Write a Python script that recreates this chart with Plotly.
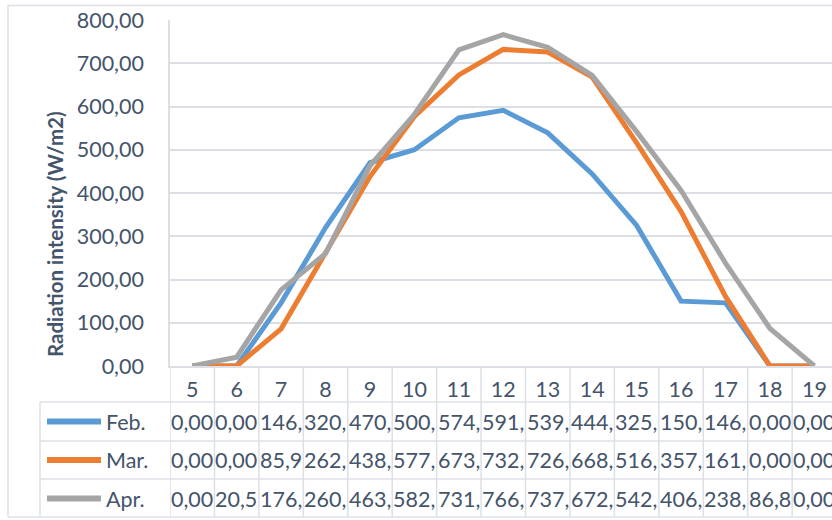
import plotly.graph_objects as go

# Hourly radiation intensity (W/m2), by month
hours = [5, 6, 7, 8, 9, 10, 11, 12, 13, 14, 15, 16, 17, 18, 19]
feb = [0.00, 0.00, 146, 320, 470, 500, 574, 591, 539, 444, 325, 150, 146, 0.00, 0.00]
mar = [0.00, 0.00, 85.9, 262, 438, 577, 673, 732, 726, 668, 516, 357, 161, 0.00, 0.00]
apr = [0.00, 20.5, 176, 260, 463, 582, 731, 766, 737, 672, 542, 406, 238, 86.8, 0.00]

series = [("Feb.", feb, "#5B9BD5"), ("Mar.", mar, "#ED7D31"), ("Apr.", apr, "#A5A5A5")]
y_ticks = [0, 100, 200, 300, 400, 500, 600, 700, 800]

W, H = 832, 520
ML, MR, MT, MB = 170, 0, 20, 154
PLOT_W = W - ML - MR
PLOT_H = H - MT - MB
CELL_W = 44.44  # pixel width of one hour column
TEXT = "#44546A"
GRID = "#DCE0E6"
FONT = "Lato"
FS = 21.5


def py(pix_y):
    """Pixel row -> paper y."""
    return (H - MB - pix_y) / PLOT_H


def px(pix_x):
    """Pixel column -> paper x."""
    return (pix_x - ML) / PLOT_W


fig = go.Figure()
for name, vals, color in series:
    fig.add_trace(go.Scatter(
        x=hours, y=vals, mode="lines", name=name,
        line=dict(color=color, width=5), showlegend=False,
        hoverinfo="skip",
    ))

x_lo = hours[0] - 0.5
x_hi = x_lo + PLOT_W / CELL_W

shapes = []
# data table grid: horizontal rules
row_edges = [402, 441, 479, 517]
for yy in row_edges:
    shapes.append(dict(type="line", xref="paper", yref="paper",
                       x0=px(40), x1=1.02, y0=py(yy), y1=py(yy),
                       line=dict(color=GRID, width=1.5)))
# vertical rules between hour columns
for h in hours + [hours[-1] + 1]:
    shapes.append(dict(type="line", xref="x", yref="paper",
                       x0=h - 0.5, x1=h - 0.5, y0=py(366), y1=py(517),
                       line=dict(color=GRID, width=1.5)))
# left edge of the legend column
shapes.append(dict(type="line", xref="paper", yref="paper",
                   x0=px(40), x1=px(40), y0=py(402), y1=py(517),
                   line=dict(color=GRID, width=1.5)))
# outer chart border
shapes.append(dict(type="line", xref="paper", yref="paper",
                   x0=px(8), x1=px(8), y0=py(5), y1=py(517),
                   line=dict(color=GRID, width=1.5)))
shapes.append(dict(type="line", xref="paper", yref="paper",
                   x0=px(8), x1=1.02, y0=py(5.5), y1=py(5.5),
                   line=dict(color=GRID, width=1.5)))
shapes.append(dict(type="line", xref="paper", yref="paper",
                   x0=px(8), x1=px(40), y0=py(517), y1=py(517),
                   line=dict(color=GRID, width=1.5)))

annotations = []
row_centers = [421.5, 460, 498.5]
for (name, vals, color), yc in zip(series, row_centers):
    # legend key line and series name
    shapes.append(dict(type="line", xref="paper", yref="paper",
                       x0=px(47), x1=px(101), y0=py(yc), y1=py(yc),
                       line=dict(color=color, width=6)))
    annotations.append(dict(xref="paper", yref="paper", x=px(104), y=py(yc),
                            text=name, showarrow=False, xanchor="left",
                            yanchor="middle", font=dict(family=FONT, size=FS, color=TEXT)))
    # table cells, clipped to the column width
    for h, v in zip(hours, vals):
        label = f"{v:.2f}".replace(".", ",")[:4]
        annotations.append(dict(xref="x", yref="paper", x=h - 0.5, xshift=-1, y=py(yc),
                                text=label, showarrow=False, xanchor="left",
                                yanchor="middle", font=dict(family=FONT, size=FS, color=TEXT)))

# value axis title
annotations.append(dict(xref="paper", yref="paper", x=px(55), y=py(234),
                        text="<b>Radiation intensity (W/m2)</b>", textangle=-90,
                        showarrow=False, xanchor="center", yanchor="middle",
                        font=dict(family=FONT, size=20.5, color=TEXT)))

fig.update_layout(
    width=W, height=H,
    margin=dict(l=ML, r=MR, t=MT, b=MB, pad=0),
    paper_bgcolor="white", plot_bgcolor="white",
    separators=",.",
    font=dict(family=FONT, color=TEXT),
    shapes=shapes, annotations=annotations,
    xaxis=dict(
        range=[x_lo, x_hi], tickvals=hours, ticktext=[str(h) for h in hours],
        showgrid=False, zeroline=False, showline=True, linecolor=GRID, linewidth=1.5,
        ticks="outside", ticklen=3, tickcolor="rgba(0,0,0,0)",
        tickfont=dict(family=FONT, size=FS, color=TEXT), fixedrange=True,
    ),
    yaxis=dict(
        range=[0, 800], tickvals=y_ticks, tickformat=".2f",
        showgrid=True, gridcolor=GRID, gridwidth=1.5, zeroline=False,
        showline=True, linecolor=GRID, linewidth=1.5,
        ticks="outside", ticklen=20, tickcolor="rgba(0,0,0,0)",
        tickfont=dict(family=FONT, size=FS, color=TEXT), fixedrange=True,
    ),
)

fig.write_html("out.html")
